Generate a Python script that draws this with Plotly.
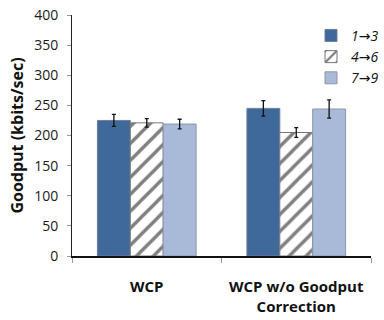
import plotly.graph_objects as go

categories = ["WCP", "WCP w/o Goodput Correction"]
category_labels = ["<b>WCP</b>", "<b>WCP w/o Goodput</b><br><b>Correction</b>"]
series_from = ["1", "4", "7"]
series_to = ["3", "6", "9"]
values_13 = [225, 245]
values_46 = [221, 205]
values_79 = [219, 244]
err_13 = [10, 13]
err_46 = [7, 8]
err_79 = [8, 15]
y_ticks = [0, 50, 100, 150, 200, 250, 300, 350, 400]

font_family = "Open Sans, Liberation Sans, Arial, sans-serif"
arrow = "<span style='font-family:DejaVu Sans'>→</span>"

fig = go.Figure()
styles = [
    dict(color="#3F689B", line=dict(color="#6B7F99", width=1)),
    dict(color="white", line=dict(color="#777777", width=1),
         pattern=dict(shape="/", fgcolor="#000000", bgcolor="white", size=12, solidity=0.28)),
    dict(color="#A9B9D8", line=dict(color="#8C96A8", width=1)),
]
for a, b, vals, errs, st in zip(series_from, series_to,
                                [values_13, values_46, values_79],
                                [err_13, err_46, err_79], styles):
    fig.add_trace(go.Bar(
        x=categories, y=vals, name="<i>" + a + arrow + b + "</i>",
        marker=st,
        error_y=dict(type="data", array=errs, color="#111111", thickness=1.3, width=2),
    ))

fig.update_layout(
    width=384, height=320,
    margin=dict(l=72, r=0, t=15, b=64),
    plot_bgcolor="white", paper_bgcolor="white",
    barmode="group", bargap=0.34, bargroupgap=0,
    font=dict(family=font_family, size=13, color="#222222"),
    showlegend=True,
    legend=dict(x=0.80, y=0.98, xanchor="left", yanchor="top",
                font=dict(size=14, color="#111111"),
                bgcolor="rgba(0,0,0,0)", tracegroupgap=3, itemwidth=30),
)
fig.update_yaxes(
    range=[0, 400], tickvals=y_ticks, showgrid=False,
    showline=True, linecolor="#222222", linewidth=1,
    ticks="outside", ticklen=4, tickcolor="#999999",
    tickfont=dict(size=14, color="#1a1a1a"),
    ticklabelstandoff=6,
    title=dict(text="<b>Goodput (kbits/sec)</b>", font=dict(size=16, color="#111111"), standoff=6),
    zeroline=False,
)
fig.update_xaxes(
    tickvals=categories, ticktext=category_labels,
    showline=True, linecolor="#111111", linewidth=2,
    ticks="outside", tickson="boundaries", ticklen=5, tickcolor="#999999",
    tickfont=dict(size=15, color="#111111"),
    ticklabelstandoff=16,
    range=[-0.5, 1.5],
)

fig.write_html("out.html")
